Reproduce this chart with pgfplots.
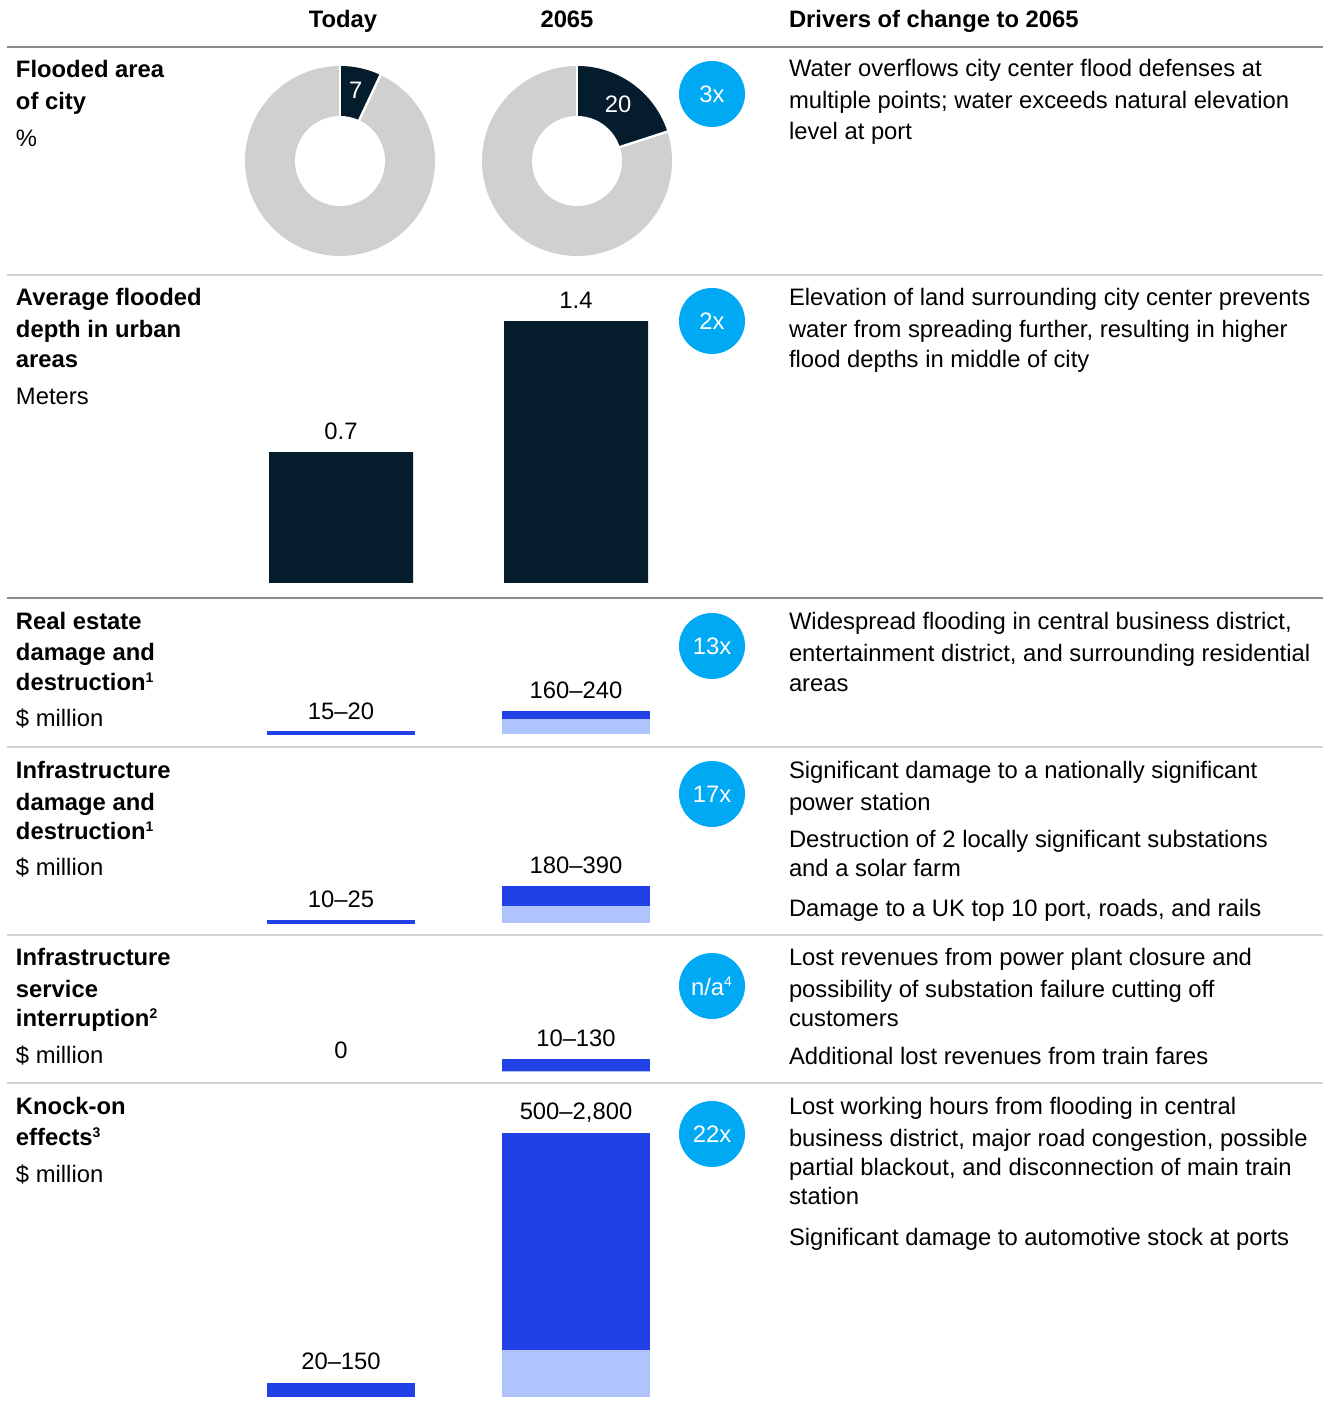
\documentclass[border=0pt]{standalone}
\usepackage{fontspec}
\setmainfont{Liberation Sans}
\usepackage{pgfplots}
\pgfplotsset{compat=1.18}

\definecolor{navy}{HTML}{051C2C}
\definecolor{bblue}{HTML}{2140E6}
\definecolor{blight}{HTML}{AFC3FF}
\definecolor{badge}{HTML}{00A9F4}
\definecolor{ring}{HTML}{D0D0D0}
\definecolor{ruledark}{HTML}{8C8C8C}
\definecolor{rulelight}{HTML}{D3D3D3}

% flooded area of city, %
\def\floodToday{7}
\def\floodFuture{20}

% picture is laid out in pixels of the reference: 1 px = 0.5pt
\pgfplotsset{
  rowax/.style={scale only axis, hide axis, clip=false, anchor=south west,
    xmin=220, xmax=700, width=240pt, ymin=0},
  bb/.style={ybar, bar shift=0pt, draw=none, bar width=148},
  donut/.style={scale only axis, hide axis, clip=false, anchor=center,
    width=95pt, height=95pt, xmin=-1, xmax=1, ymin=-1, ymax=1},
}

\newcommand\fsz{\fontsize{11.9}{15}\selectfont}
\newcommand\Lt[3]{\node[anchor=base west] at (#1,1402-#2) {#3};}
\newcommand\Lb[3]{\node[anchor=base west, font=\fsz\bfseries] at (#1,1402-#2) {#3};}
\newcommand\supn[1]{\textsuperscript{\fontsize{7}{8}\selectfont #1}}
\newcommand\Badge[2]{\node[circle, fill=badge, minimum size=33pt, text=white] at (712,1402-#1) {#2};}
\newcommand\Rule[2]{\draw[#2, line width=1pt] (7,1402-#1) -- (1323,1402-#1);}

\begin{document}
\begin{tikzpicture}[x=0.5pt, y=0.5pt,
  every node/.style={inner sep=0pt, outer sep=0pt, font=\fsz}]
\path[use as bounding box] (0,0) rectangle (1330,1402);

% header
\node[anchor=base, font=\fsz\bfseries] at (343,1402-28) {Today};
\node[anchor=base, font=\fsz\bfseries] at (567,1402-28) {2065};
\Lb{789}{28}{Drivers of change to 2065}
\Rule{47}{ruledark}
\Rule{275}{rulelight}
\Rule{598}{ruledark}
\Rule{747}{rulelight}
\Rule{935}{rulelight}
\Rule{1083}{rulelight}

% ---------- row 1: donuts
\Lb{16}{78}{Flooded area}
\Lb{16}{110}{of city}
\Lt{16}{147}{\%}
\begin{axis}[donut, at={(170pt,620.5pt)}]
  \fill[ring] (axis cs:0,0) circle[radius=47.5pt];
  \fill[navy] (axis cs:0,0) -- ++(90:47.5pt)
    arc[start angle=90, end angle={90-3.6*\floodToday}, radius=47.5pt] -- cycle;
  \draw[white, line width=1.2pt] (axis cs:0,0) -- ++(90:48.5pt);
  \draw[white, line width=1.2pt] (axis cs:0,0) -- ++({90-3.6*\floodToday}:48.5pt);
  \fill[white] (axis cs:0,0) circle[radius=22.5pt];
  \path (axis cs:0,0) ++({90-1.8*\floodToday}:36pt) node[text=white] {\floodToday};
\end{axis}
\begin{axis}[donut, at={(288.5pt,620.5pt)}]
  \fill[ring] (axis cs:0,0) circle[radius=47.5pt];
  \fill[navy] (axis cs:0,0) -- ++(90:47.5pt)
    arc[start angle=90, end angle={90-3.6*\floodFuture}, radius=47.5pt] -- cycle;
  \draw[white, line width=1.2pt] (axis cs:0,0) -- ++(90:48.5pt);
  \draw[white, line width=1.2pt] (axis cs:0,0) -- ++({90-3.6*\floodFuture}:48.5pt);
  \fill[white] (axis cs:0,0) circle[radius=22.5pt];
  \path (axis cs:0,0) ++({90-1.8*\floodFuture}:35pt) node[text=white] {\floodFuture};
\end{axis}
\Badge{94}{3x}
\Lt{789}{77}{Water overflows city center flood defenses at}
\Lt{789}{109}{multiple points; water exceeds natural elevation}
\Lt{789}{140}{level at port}

% ---------- row 2: flooded depth (meters)
\Lb{16}{306}{Average flooded}
\Lb{16}{338}{depth in urban}
\Lb{16}{368}{areas}
\Lt{16}{405}{Meters}
\begin{axis}[rowax, at={(110pt,409.5pt)}, ymax=1.5, height=140.25pt]
  \addplot[bb, fill=navy, bar width=144] coordinates {(341,0.7) (576,1.4)};
  \node[anchor=base, yshift=6.5pt] at (axis cs:341,0.7) {0.7};
  \node[anchor=base, yshift=6.5pt] at (axis cs:576,1.4) {1.4};
\end{axis}
\Badge{321}{2x}
\Lt{789}{306}{Elevation of land surrounding city center prevents}
\Lt{789}{338}{water from spreading further, resulting in higher}
\Lt{789}{368}{flood depths in middle of city}

% ---------- row 3: real estate
\Lb{16}{630}{Real estate}
\Lb{16}{661}{damage and}
\Lb{16}{691}{destruction\supn{1}}
\Lt{16}{727}{\$ million}
\begin{axis}[rowax, at={(110pt,334pt)}, ymax=300, height=14.145pt]
  \addplot[bb, fill=bblue, draw=bblue, line width=1pt, bar width=146] coordinates {(341,20)};
  \addplot[bb, fill=bblue] coordinates {(576,240)};
  \addplot[bb, fill=blight] coordinates {(576,160)};
  \node[anchor=base, yshift=6.5pt] at (axis cs:341,20) {15–20};
  \node[anchor=base, yshift=6.5pt] at (axis cs:576,240) {160–240};
\end{axis}
\Badge{646}{13x}
\Lt{789}{630}{Widespread flooding in central business district,}
\Lt{789}{662}{entertainment district, and surrounding residential}
\Lt{789}{692}{areas}

% ---------- row 4: infrastructure damage
\Lb{16}{779}{Infrastructure}
\Lb{16}{811}{damage and}
\Lb{16}{840}{destruction\supn{1}}
\Lt{16}{876}{\$ million}
\begin{axis}[rowax, at={(110pt,239.5pt)}, ymax=400, height=18.86pt]
  \addplot[bb, fill=bblue, draw=bblue, line width=1pt, bar width=146] coordinates {(341,25)};
  \addplot[bb, fill=bblue] coordinates {(576,390)};
  \addplot[bb, fill=blight] coordinates {(576,180)};
  \node[anchor=base, yshift=6.5pt] at (axis cs:341,25) {10–25};
  \node[anchor=base, yshift=6.5pt] at (axis cs:576,390) {180–390};
\end{axis}
\Badge{794}{17x}
\Lt{789}{779}{Significant damage to a nationally significant}
\Lt{789}{811}{power station}
\Lt{789}{848}{Destruction of 2 locally significant substations}
\Lt{789}{877}{and a solar farm}
\Lt{789}{917}{Damage to a UK top 10 port, roads, and rails}

% ---------- row 5: service interruption
\Lb{16}{966}{Infrastructure}
\Lb{16}{998}{service}
\Lb{16}{1027}{interruption\supn{2}}
\Lt{16}{1064}{\$ million}
\begin{axis}[rowax, at={(110pt,165.25pt)}, ymax=150, height=7.0725pt]
  \addplot[bb, fill=bblue] coordinates {(576,130)};
  \addplot[bb, fill=blight] coordinates {(576,10)};
  \node[anchor=base, yshift=6.5pt] at (axis cs:341,0) {0};
  \node[anchor=base, yshift=6.5pt] at (axis cs:576,130) {10–130};
\end{axis}
\Badge{986}{n/a\supn{4}}
\Lt{789}{966}{Lost revenues from power plant closure and}
\Lt{789}{998}{possibility of substation failure cutting off}
\Lt{789}{1027}{customers}
\Lt{789}{1065}{Additional lost revenues from train fares}

% ---------- row 6: knock-on effects
\Lb{16}{1115}{Knock-on}
\Lb{16}{1146}{effects\supn{3}}
\Lt{16}{1183}{\$ million}
\begin{axis}[rowax, at={(110pt,2.5pt)}, ymax=2800, height=132.02pt]
  \addplot[bb, fill=bblue] coordinates {(341,150)};
  \addplot[bb, fill=bblue] coordinates {(576,2800)};
  \addplot[bb, fill=blight] coordinates {(576,500)};
  \node[anchor=base, yshift=6.5pt] at (axis cs:341,150) {20–150};
  \node[anchor=base, yshift=6.5pt] at (axis cs:576,2800) {500–2,800};
\end{axis}
\Badge{1134}{22x}
\Lt{789}{1115}{Lost working hours from flooding in central}
\Lt{789}{1147}{business district, major road congestion, possible}
\Lt{789}{1176}{partial blackout, and disconnection of main train}
\Lt{789}{1205}{station}
\Lt{789}{1246}{Significant damage to automotive stock at ports}
\end{tikzpicture}
\end{document}
